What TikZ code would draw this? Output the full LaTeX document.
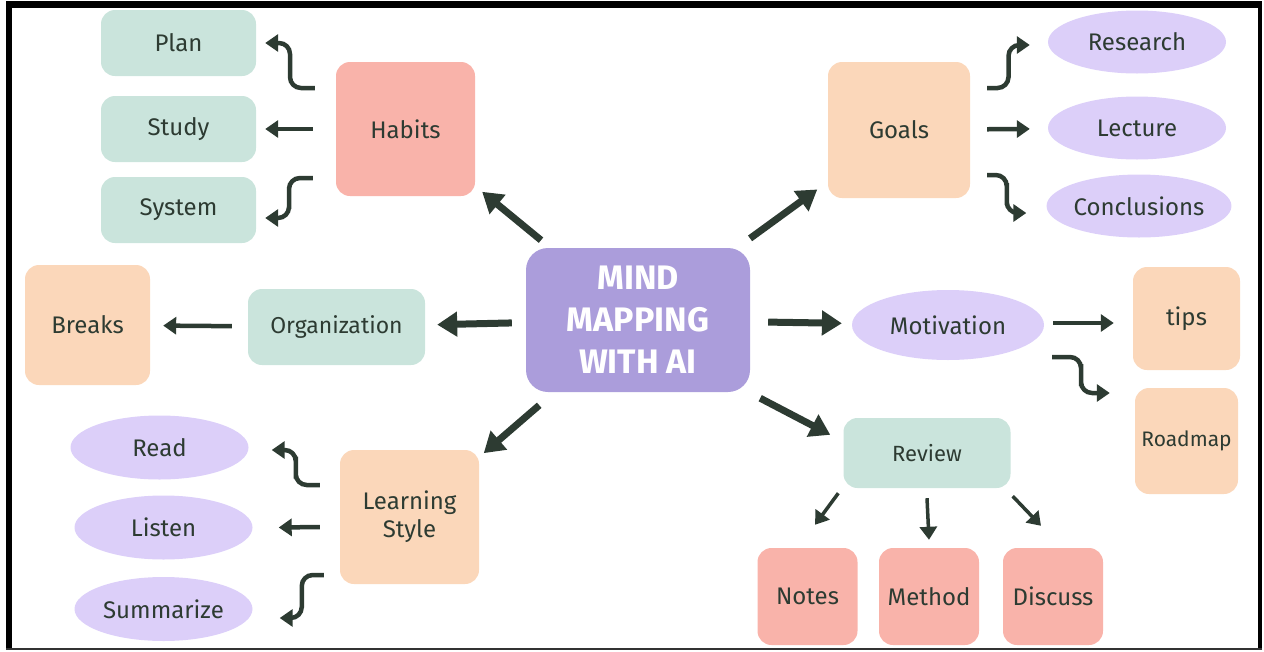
\documentclass[tikz,border=0pt]{standalone}
\usepackage{fontspec}
\setmainfont{Fira Sans}
\usetikzlibrary{arrows.meta,shapes.geometric,calc,positioning}

\definecolor{ink}{HTML}{2D3B32}
\definecolor{mint}{HTML}{CAE4DC}
\definecolor{rose}{HTML}{F9B3AA}
\definecolor{peach}{HTML}{FBD7BA}
\definecolor{lilac}{HTML}{DCCFF9}
\definecolor{hubcol}{HTML}{AB9DDB}

\tikzset{
	card/.style={rectangle, rounded corners=14pt, inner sep=0pt, text=ink, font=\fontsize{24}{28}\selectfont, align=center},
	oval/.style={ellipse, inner sep=0pt, fill=lilac, text=ink, font=\fontsize{24}{28}\selectfont},
	bigarrow/.style={draw=ink, line width=7pt, -{Triangle[length=20pt,width=24pt]}},
	twig/.style={draw=ink, line width=4.5pt, -{Triangle[length=13pt,width=17pt]}},
	elbow/.style={twig, rounded corners=11pt, to path={-| ($(\tikztostart)!.5!(\tikztotarget)$) |- (\tikztotarget)}}
}

\begin{document}
\begin{tikzpicture}[x=1pt, y=-1pt]
	\useasboundingbox (0,0) rectangle (1264,651);
	% frame
	\fill[black] (6,1) rectangle (1262,8);
	\fill[black] (6,1) rectangle (12,650);
	\fill[black] (1258,1) rectangle (1262,650);
	\fill[black!80] (6,648) rectangle (1262,650);

	\node[card, fill=hubcol, text=white, minimum width=224pt, minimum height=144pt, rounded corners=22pt, font=\fontsize{34}{42}\selectfont\bfseries] (hub) at (638,320) {MIND\\MAPPING\\WITH AI};

	\node[card, fill=rose, minimum width=139pt, minimum height=134pt] (habits) at (405.5,129) {Habits};
	\foreach \name/\y/\txt in {plan/43/Plan, study/129/Study, system/210/System}
		\node[card, fill=mint, minimum width=155pt, minimum height=66pt] (\name) at (178.5,\y) {\txt};

	\node[card, fill=peach, minimum width=142pt, minimum height=136pt] (goals) at (899,130) {Goals};
	\foreach \name/\x/\y/\txt in {research/1137/42/Research, lecture/1137/128/Lecture, conclusions/1139/206/Conclusions}
		\node[oval, minimum width=178pt, minimum height=63pt] (\name) at (\x,\y) {\txt};

	\node[card, fill=mint, minimum width=177pt, minimum height=76pt, font=\fontsize{23}{27}\selectfont] (org) at (336.5,327) {Organization};
	\node[card, fill=peach, minimum width=125pt, minimum height=120pt] (breaks) at (87.5,325) {Breaks};

	\node[oval, minimum width=192pt, minimum height=70pt] (motivation) at (948,325) {Motivation};
	\node[card, fill=peach, minimum width=107pt, minimum height=103pt] (tips) at (1186.5,318.5) {tips};
	\node[card, fill=peach, minimum width=103pt, minimum height=106pt, font=\fontsize{21}{25}\selectfont] (roadmap) at (1186.5,441) {Roadmap};

	\node[card, fill=mint, minimum width=167pt, minimum height=70pt, font=\fontsize{22}{26}\selectfont] (review) at (927,453) {Review};
	\foreach \name/\x/\txt in {notes/807.5/Notes, method/929/Method, discuss/1053/Discuss}
		\node[card, fill=rose, minimum width=100pt, minimum height=97pt] (\name) at (\x,596.5) {\txt};

	\node[card, fill=peach, minimum width=139pt, minimum height=134pt] (learning) at (409.5,517) {Learning\\Style};
	\foreach \name/\x/\y/\txt in {read/159.5/447.5/Read, listen/163.5/527.5/Listen, summarize/163.5/609/Summarize}
		\node[oval, minimum width=178pt, minimum height=64pt] (\name) at (\x,\y) {\txt};

	% main branches
	\draw[bigarrow, shorten <=12pt, shorten >=9pt] (hub) -- (habits);
	\draw[bigarrow, shorten <=16pt, shorten >=13pt] (hub) -- (goals);
	\draw[bigarrow, shorten <=14pt, shorten >=12pt] (hub) -- (org);
	\draw[bigarrow, shorten <=18pt, shorten >=10pt] (hub) -- (motivation);
	\draw[bigarrow, shorten <=20pt, shorten >=6pt] (hub) -- (learning);
	\draw[bigarrow] ([shift={(10pt,-6pt)}]hub.south east) -- ([shift={(-13pt,-17pt)}]review.north west);

	% sub branches
	\draw[elbow] ([shift={(-21pt,41pt)}]habits.west) to ([xshift=9pt]plan.east);
	\draw[twig, shorten <=23pt, shorten >=9pt] (habits) -- (study);
	\draw[elbow] ([shift={(-23pt,-49pt)}]habits.west) to ([shift={(9pt,-8pt)}]system.east);

	\draw[elbow] ([shift={(17pt,42pt)}]goals.east) to ([shift={(-18pt,-3pt)}]research.west);
	\draw[twig, shorten <=17pt, shorten >=18pt] (goals) -- (lecture);
	\draw[elbow] ([shift={(17pt,-45pt)}]goals.east) to ([shift={(-20pt,-7pt)}]conclusions.west);

	\draw[twig, shorten <=16pt, shorten >=13pt] (org) -- (breaks);
	\draw[twig] ([shift={(9pt,2pt)}]motivation.east) -- ([shift={(-19pt,-4.5pt)}]tips.west);
	\draw[elbow] ([shift={(8pt,-32pt)}]motivation.east) to ([shift={(-25pt,48pt)}]roadmap.west);

	\draw[twig, line width=3.5pt] ([shift={(-5pt,-5pt)}]review.south west) -- ([shift={(7.5pt,23pt)}]notes.north);
	\draw[twig, line width=3.5pt] ([yshift=-10pt]review.south) -- ([yshift=8pt]method.north);
	\draw[twig, line width=3.5pt] ([shift={(2pt,-8pt)}]review.south east) -- ([shift={(-12pt,22pt)}]discuss.north);

	\draw[elbow] ([shift={(-20pt,32pt)}]learning.west) to ([shift={(23pt,-2.5pt)}]read.east);
	\draw[twig] ([shift={(-20pt,-10pt)}]learning.west) -- ([xshift=26pt]listen.east);
	\draw[elbow] ([shift={(-16pt,-58pt)}]learning.west) to ([shift={(27pt,-9pt)}]summarize.east);
\end{tikzpicture}
\end{document}
